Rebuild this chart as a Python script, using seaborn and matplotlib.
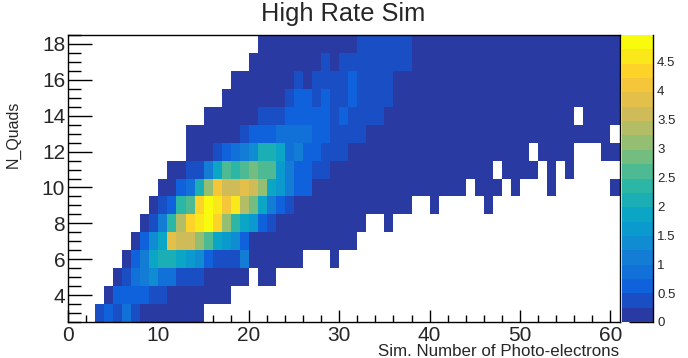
import numpy as np
import matplotlib
matplotlib.use('Agg')
import matplotlib.pyplot as plt
from matplotlib.colors import BoundaryNorm, LinearSegmentedColormap, ListedColormap
import seaborn as sns

sns.set_style('white')
plt.rcParams['font.family'] = ['Liberation Sans', 'DejaVu Sans']

# ── Data: mean value per bin, one row per N_Quads, bins of width 1 from x = 0 ──
E = np.nan  # empty bin
row_18 = [E]*21 + [.1]*11 + [.37]*6 + [.1]*23
row_17 = [E]*20 + [.1]*8 + [.37, .1] + [.37]*8 + [.1]*23
row_16 = [E]*18 + [.1]*7 + [.37, .1] + [.37]*4 + [.6] + [.37]*4 + [.1]*25
row_15 = [E]*17 + [.1]*7 + [.37, .6, .6, .37, .6, .37, .37, .6] + [.37]*4 + [.1]*25
row_14 = [E]*15 + [.1]*6 + [.37]*3 + [.6]*5 + [.37, .6] + [.37]*4 + [.1]*21 + [E] + [.1]*4
row_13 = [E]*13 + [.1]*6 + [.37] + [.6]*3 + [.87]*4 + [.6]*2 + [.37]*4 + [.1]*27 + [E]
row_12 = ([E]*13 + [.1]*3 + [.37, .6, .87, 1.1, 1.35, 2.1, 2.1, 1.85, .87, 1.1, .6, .6, .37, .37, .37]
          + [.1]*20 + [E] + [.1]*4 + [E]*3 + [.1]*2)
row_11 = ([E]*11 + [.1]*2 + [.37, .37, 1.1, 1.85, 2.6, 2.35, 2.6, 2.85, 2.6, 2.6, 1.6, 1.1, .6, .6, .37, .37]
          + [.1]*18 + [E] + [.1]*4 + [E, .1, E, .1] + [E]*5)
row_10 = ([E]*10 + [.1]*2 + [.6, .87, 2.1, 3.1, 4.1, 3.6, 3.6, 3.85, 3.6, 3.1, 1.85, 1.6, 1.1, .6, .6]
          + [.1]*17 + [E] + [.1]*3 + [E, .1] + [E]*3 + [.1] + [E]*6 + [.1])
row_9 = ([E]*9 + [.1, .37, .6, 2.35, 2.6, 4.35, 4.85, 4.6, 4.1, 4.6, 3.35, 2.85, 1.85, 1.1, .6, .37]
         + [.1]*13 + [E]*2 + [.1] + [E]*5 + [.1] + [E]*14)
row_8 = ([E]*8 + [.1, .37, 1.1, 2.35, 3.35, 4.35, 4.6, 4.85, 4.35, 3.1, 2.35, 1.85, 1.6, .6, .37]
         + [.1]*10 + [E]*2 + [.1] + [E]*25)
row_7 = [E]*7 + [.1, .6, 1.35, 1.85, 3.85, 3.6, 3.6, 3.1, 2.6, 1.85, 1.6, 1.35, .6] + [.1]*12 + [E]*29
row_6 = ([E]*6 + [.1, .6, 1.1, 1.85, 2.1, 2.1, 1.85, 1.6, 1.35, .6, .37, .37, .37, 1.1]
         + [.1]*6 + [E]*3 + [.1] + [E]*31)
row_5 = [E]*5 + [.1, .37, .87, 1.1, 1.35, .87, .87, .37, .37, .37] + [.1]*5 + [E] + [.1]*2 + [E]*38
row_4 = [E]*4 + [.1] + [.6]*4 + [.37]*2 + [.1]*7 + [E]*43
row_3 = [E]*3 + [.37, .6, .37, .87, .37] + [.1]*7 + [E]*46

x_ticks = [0, 10, 20, 30, 40, 50, 60]
y_ticks = [18, 16, 14, 12, 10, 8, 6, 4]
z_ticks = [0, 0.5, 1, 1.5, 2, 2.5, 3, 3.5, 4, 4.5]
z_tick_labels = ['0', '0.5', '1', '1.5', '2', '2.5', '3', '3.5', '4', '4.5']

grid = np.array([row_18, row_17, row_16, row_15, row_14, row_13, row_12, row_11,
                 row_10, row_9, row_8, row_7, row_6, row_5, row_4, row_3])

# ── ROOT "bird" palette cut into 20 contours ─────────────────
bird = LinearSegmentedColormap.from_list('bird', [
    (0.2082, 0.1664, 0.5293), (0.0592, 0.3599, 0.8684), (0.0780, 0.5041, 0.8385),
    (0.0232, 0.6419, 0.7914), (0.1802, 0.7178, 0.6425), (0.5301, 0.7492, 0.4662),
    (0.8186, 0.7328, 0.3499), (0.9956, 0.7862, 0.1968), (0.9764, 0.9832, 0.0539)])
levels = np.linspace(0, 4.95, 21)
cmap = ListedColormap(bird(np.linspace(0.04, 1, 20)))
norm = BoundaryNorm(levels, 20)

W, H = 688, 358
fig = plt.figure(figsize=(W / 100, H / 100), dpi=100)
ax = fig.add_axes([68 / W, 1 - 322 / H, 551.5 / W, 287 / H])
cax = fig.add_axes([622 / W, 1 - 322 / H, 31 / W, 287 / H])

sns.heatmap(grid, ax=ax, cbar_ax=cax, cmap=cmap, norm=norm,
            xticklabels=False, yticklabels=False,
            cbar_kws={'ticks': z_ticks, 'spacing': 'proportional'})

# heatmap cells sit on 0..N, so x is already in bin units; rows run downward from 18
ax.set_xticks(x_ticks)
ax.set_xticklabels([str(v) for v in x_ticks], fontsize=15)
ax.set_xticks(np.arange(0, 61, 2), minor=True)
ax.set_yticks([18 - v + 0.5 for v in y_ticks])
ax.set_yticklabels([str(v) for v in y_ticks], fontsize=15)
ax.set_yticks(np.arange(0, 16.5, 0.5), minor=True)
ax.tick_params(axis='x', which='major', direction='in', length=9, width=1, pad=3, bottom=True, color='black')
ax.tick_params(axis='x', which='minor', direction='in', length=5, width=1, bottom=True, color='black')
ax.tick_params(axis='y', which='major', direction='in', length=17, width=1, pad=2, left=True, color='black')
ax.tick_params(axis='y', which='minor', direction='in', length=9, width=1, left=True, color='black')
for s in ax.spines.values():
    s.set_visible(True)
    s.set_color('black')
    s.set_linewidth(1)

ax.set_xlabel('Sim. Number of Photo-electrons', loc='right', fontsize=12.2, va='center')
ax.xaxis.set_label_coords(1, -(351 - 322) / 287)
ax.set_ylabel('N_Quads', fontsize=11.5, va='center')
ax.yaxis.set_label_coords((13 - 68) / 551.5, (322 - 134) / 287)
fig.text(343 / W, 1 - 14 / H, 'High Rate Sim', fontsize=18.3, ha='center', va='center')

# colour bar: only the right edge and inward ticks
cbar = ax.collections[0].colorbar
cbar.outline.set_visible(False)
cax.spines['right'].set_visible(True)
cax.spines['right'].set_color('black')
cax.spines['right'].set_linewidth(1)
cbar.set_ticks(z_ticks, labels=z_tick_labels)
cax.tick_params(axis='y', which='major', direction='in', length=17, width=1, pad=3, labelsize=9.5, right=True, color='black')
cax.minorticks_off()

fig.savefig('out.png', dpi=100)
